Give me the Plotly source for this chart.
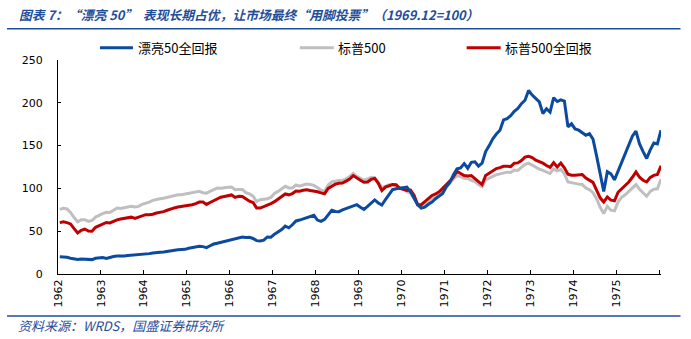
import plotly.graph_objects as go

# ---------------- data (monthly, Jan 1962 .. Jan 1976; 1969.12 = 100) ----------------
months = [f"{1962 + i // 12}-{i % 12 + 1:02d}" for i in range(169)]
year_labels = [str(y) for y in range(1962, 1976)] + [""]

nifty50 = [
    20.2, 20, 19.5, 18.5, 17.5, 17, 17.5, 17.2, 16.5, 16.8, 18.3, 18.8,
    19.3, 18.2, 19.5, 20.5, 21, 20.8, 21, 21.5, 21.8, 22.5, 22.2, 23,
    23.4, 23.8, 24.5, 24.6, 25.3, 25.8, 26.5, 27, 28, 28.2, 28.5, 28.8,
    30, 31, 31.8, 32.5, 32, 30.8, 33, 35, 36, 37, 38.3, 39.5,
    40.8, 41.5, 42.3, 43.2, 42.6, 42.8, 41.5, 39, 38.5, 39.5, 43.3, 43,
    46.5, 49, 52, 56, 54, 57.5, 62, 63, 64.5, 65.5, 67, 68.5,
    63, 61.5, 63.8, 69, 74.5, 73, 72.8, 75, 76.5, 78, 80, 81,
    78, 75.5, 79, 83, 86.5, 83, 80.5, 87, 93, 98.5, 99.5, 100,
    100.5, 101.5, 96, 88, 81, 77, 78, 81.5, 84, 88, 90.5, 94,
    102, 107, 116, 123, 124, 129, 123.5, 130.5, 131, 126, 129.5, 143,
    150, 158, 163.5, 168, 180, 181.5, 185, 190, 193.5, 199, 203, 214.5,
    209, 205, 201, 187.5, 193, 189, 206, 201.5, 203.5, 202, 172, 175.5,
    169.5, 168, 164.5, 162, 164, 157.5, 138, 118, 96.5, 119.5, 117, 110,
    120, 131, 142, 152, 161, 167, 152, 143, 135, 145, 153, 152,
    168,
]

sp500 = [
    75.5, 76.8, 76, 72, 66, 61, 63.5, 63.5, 61.5, 62.5, 66.5, 68.8,
    70.5, 72, 71.8, 74.5, 77, 76.5, 77.5, 78.5, 79, 78.3, 79, 81.3,
    82.5, 84, 86, 87.2, 88, 88.6, 89.5, 90.5, 91.8, 92.6, 92.6, 93.3,
    94.8, 95.5, 96, 96.5, 95, 94.5, 96.5, 98.8, 100.5, 100.2, 101.2, 101.4,
    101.6, 98.5, 98.8, 98.8, 95, 93.5, 91, 84.6, 86.8, 87.2, 88, 89.5,
    94, 96.5, 99, 102.5, 100.5, 100.5, 104, 102.5, 104, 105, 104.5, 103.5,
    101, 97.8, 96.5, 104, 107.5, 108.8, 109.2, 109.3, 111, 114, 117.5, 114,
    111.5, 109.5, 111, 113, 112.5, 107.5, 101, 103, 104.3, 104.3, 103, 100,
    100.5, 96, 95, 88, 81, 77.5, 81.5, 84.5, 89, 90.3, 93, 96,
    101.5, 106.5, 111, 115, 114, 111.8, 111.5, 109.5, 108, 104.5, 102, 110,
    112, 114, 116, 117, 118, 119, 118.7, 121.5, 121, 124.5, 128, 129.5,
    127, 124.8, 122.5, 121, 119, 117.4, 122.5, 120.5, 122, 117, 107.5, 106.5,
    106, 105, 104.5, 100.5, 98.5, 95, 88, 78, 70.6, 79, 74.5, 73.7,
    84, 89.5, 92.5, 96.5, 100, 104.5, 99, 95, 90.8, 96.5, 99, 99.5,
    111,
]

sp500_tr = [
    60, 61, 60, 58.5, 53, 48, 51, 52.5, 50.2, 50, 54.5, 56.5,
    58.5, 60.2, 59.6, 61.5, 63.2, 64.3, 65, 66, 66.4, 65, 66.2, 67.8,
    69.3, 69.3, 69.8, 71.3, 72, 72.9, 74.5, 76.2, 77.2, 78.2, 78.8, 79.5,
    80.2, 81, 82.2, 84, 84, 81.3, 83.5, 85.7, 87.8, 89.7, 90.6, 91.5,
    92.4, 89.5, 90.8, 90.5, 87.5, 85, 83.5, 77.2, 77, 78.5, 80.5, 82.2,
    84.5, 87.5, 91, 93.5, 92.5, 94, 97, 96.8, 97.8, 98.5, 97.6, 97,
    96, 94.8, 93.8, 100, 103, 105, 106, 106.3, 108.5, 111, 115, 112,
    109.5, 107.2, 107.5, 110.5, 111.7, 106, 97.5, 101.5, 103, 104.5, 104.3, 100,
    99, 97.5, 98, 92, 81, 81, 84.5, 88.5, 91.8, 93.5, 96, 100,
    104, 108.5, 113.5, 120, 117.5, 115, 114.5, 115, 111.5, 107.5, 104.5, 115,
    118, 120.5, 123.2, 124.2, 125.8, 126, 125.5, 129.5, 129.8, 132.5, 136.6, 137.5,
    136, 133, 131.5, 129.5, 126.8, 124.5, 130, 125, 129.6, 124, 116.5, 115.4,
    115.5, 116, 116.3, 112, 109, 107, 98, 89, 84, 90, 86.3, 85.5,
    95.5, 99.5, 103, 107.5, 113, 119.3, 113, 109.5, 107.5, 112.8, 115.2, 116.2,
    126.5,
]

series_names = ["漂亮50全回报", "标普500", "标普500全回报"]
series_colors = ["#0B4A9E", "#BFBFBF", "#C00000"]

title_text = "图表 7：“漂亮 50”  表现长期占优，让市场最终“用脚投票”（1969.12=100）"
source_text = "资料来源：WRDS，国盛证券研究所"

# ---------------- layout geometry (pixels) ----------------
W, H = 691, 339
L, R, T, B = 58, 661.5, 59.5, 274

def fx(px):
    return (px - L) / (R - L)

def fy(py):
    return (B - py) / (B - T)

xpos = [i + 0.5 for i in range(len(months))]

fig = go.Figure()
# draw order: gray, red, blue on top
for name, vals, col in [(series_names[1], sp500, series_colors[1]),
                        (series_names[2], sp500_tr, series_colors[2]),
                        (series_names[0], nifty50, series_colors[0])]:
    fig.add_trace(go.Scatter(
        x=xpos, y=vals, mode="lines", name=name,
        line=dict(color=col, width=3, shape="linear"),
        customdata=months, hovertemplate="%{customdata}: %{y}<extra>" + name + "</extra>",
        showlegend=False,
    ))

axis_font = dict(family="DejaVu Sans, Verdana, sans-serif", size=11, color="#000000")

fig.update_layout(
    width=W, height=H,
    margin=dict(l=L, r=W - R, t=T, b=H - B, pad=0),
    paper_bgcolor="white", plot_bgcolor="white",
    showlegend=False,
    xaxis=dict(
        range=[0, 168.5], tickmode="array",
        tickvals=[12 * i for i in range(15)], ticktext=year_labels,
        tickangle=-90, ticks="inside", ticklen=4, tickcolor="#000000", tickwidth=1,
        showline=True, linecolor="#000000", linewidth=1,
        showgrid=False, zeroline=False, tickfont=axis_font,
    ),
    yaxis=dict(
        range=[0, 250], tickmode="linear", tick0=0, dtick=50,
        ticks="inside", ticklen=3, tickcolor="#000000", tickwidth=1,
        showline=True, linecolor="#000000", linewidth=1,
        showgrid=False, zeroline=False, tickfont=axis_font,
        ticklabelstandoff=12,
    ),
)

blue_txt = "#1F4E9A"
shapes = []
annotations = []

# title + separator lines
annotations.append(dict(
    x=fx(17), y=fy(14), xref="paper", yref="paper", xanchor="left", yanchor="middle",
    text="<b><i>" + title_text + "</i></b>", showarrow=False,
    font=dict(family="Noto Sans CJK SC, sans-serif", size=12.8, color=blue_txt),
))
shapes.append(dict(type="line", xref="paper", yref="paper",
                   x0=fx(7), x1=fx(681), y0=fy(28.3), y1=fy(28.3),
                   line=dict(color=blue_txt, width=1.5)))
shapes.append(dict(type="line", xref="paper", yref="paper",
                   x0=fx(7), x1=fx(681), y0=fy(316), y1=fy(316),
                   line=dict(color=blue_txt, width=1.5)))
annotations.append(dict(
    x=fx(16), y=fy(326), xref="paper", yref="paper", xanchor="left", yanchor="middle",
    text="<i>" + source_text + "</i>", showarrow=False,
    font=dict(family="Noto Sans CJK SC, sans-serif", size=13, color=blue_txt),
))

# legend
legend_items = [(100, 133, 136, 0), (300, 334, 336, 1), (467, 501, 503, 2)]
for x0, x1, xt, idx in legend_items:
    shapes.append(dict(type="line", xref="paper", yref="paper",
                       x0=fx(x0), x1=fx(x1), y0=fy(47.3), y1=fy(47.3),
                       line=dict(color=series_colors[idx], width=3)))
    annotations.append(dict(
        x=fx(xt), y=fy(46.5), xref="paper", yref="paper", xanchor="left", yanchor="middle",
        text=series_names[idx], showarrow=False,
        font=dict(family="Noto Sans CJK SC, sans-serif", size=13, color="#000000"),
    ))

fig.update_layout(shapes=shapes, annotations=annotations)
fig.write_html("out.html")
